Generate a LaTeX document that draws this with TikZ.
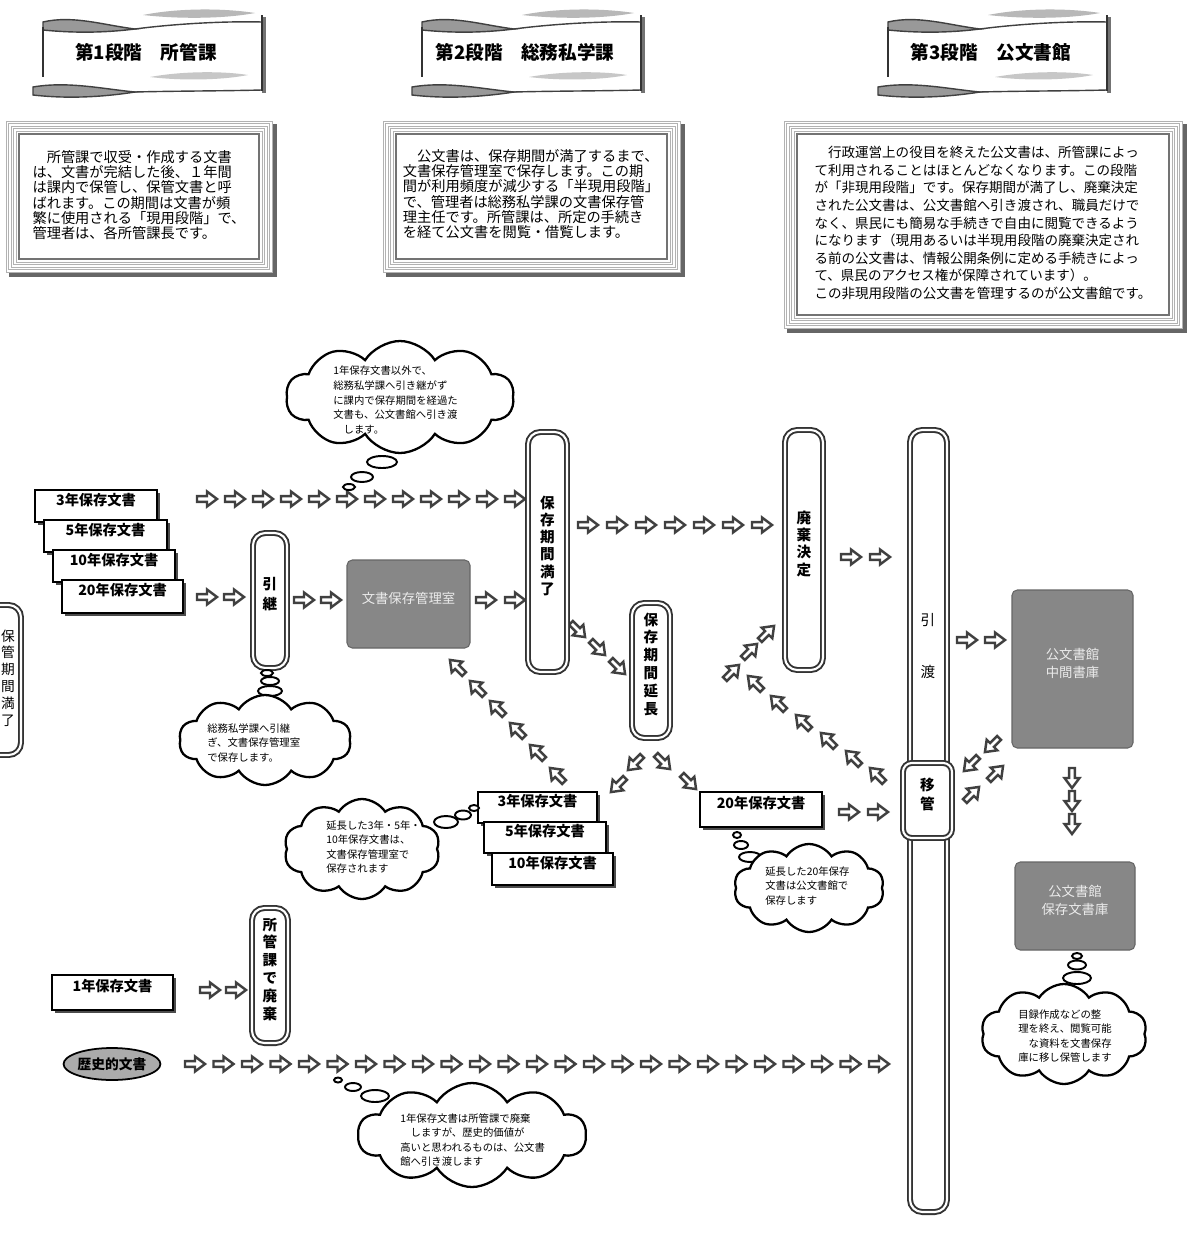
\documentclass[tikz,border=0pt]{standalone}
\usepackage{fontspec}
\setmainfont{Noto Sans CJK JP}
\usetikzlibrary{shapes.symbols, shapes.geometric}
\usetikzlibrary{shadows, fit}

\tikzset{
  arrbody/.style={draw=black!75, fill=white, line width=1.4pt},
  harr/.pic={\draw[arrbody] (-10,-2.8) -- (0,-2.8) -- (0,-7.5) -- (10,0) -- (0,7.5) -- (0,2.8) -- (-10,2.8) -- cycle;},
  pill/.style={draw=black!80, double=white, double distance=1.2pt, line width=1.1pt, fill=white, rounded corners=7pt, inner sep=0pt, align=center, font=\bfseries\fontsize{8.3}{9.8}\selectfont},
  docbox/.style={draw=black, line width=0.9pt, fill=white, inner sep=0pt, drop shadow={shadow xshift=1.7pt, shadow yshift=-1.7pt, fill=black!70, opacity=1}, font=\bfseries\fontsize{8.1}{9}\selectfont},
  store/.style={fill=black!47, draw=black!60, line width=0.6pt, rounded corners=3pt, inner sep=0pt, text=black!8, align=center, font=\fontsize{7.6}{10}\selectfont},
  thought/.style={cloud, cloud puffs=10, cloud puff arc=115, cloud ignores aspect, draw=black, line width=1.3pt, fill=white, inner sep=0pt},
  bubble/.style={draw=black, line width=1.1pt, fill=white},
  cloudtext/.style={align=left, inner sep=0pt, anchor=west, font=\fontsize{5.9}{8.3}\selectfont},
  infotext/.style={align=left, inner sep=0pt, font=\fontsize{8.1}{8.7}\selectfont},
  stagetext/.style={inner sep=0pt, font=\bfseries\fontsize{10.6}{12}\selectfont},
  hist/.style={ellipse, draw=black, line width=1pt, fill=black!33, minimum width=80*0.02cm, minimum height=32*0.02cm, inner sep=0pt, font=\bfseries\fontsize{7.8}{9}\selectfont}
}

% ribbon heading: x, y of upper left corner, name, text
\newcommand{\stagebanner}[4]{%
 \begin{scope}[shift={(#1,#2)}]
  \fill[black!28] (100,-10) .. controls (135,-17) and (180,-17) .. (212,-12) .. controls (180,-6) and (135,-6) .. (100,-10) -- cycle;
  \fill[white] (0,-3) .. controls (30,-10) and (60,0) .. (92,4) .. controls (130,-1) and (180,-4) .. (219,-3) -- (219,65) .. controls (180,66) and (130,66) .. (92,67) .. controls (60,64) and (25,56) .. (-10,62) -- (0,52) -- cycle;
  \fill[black!22] (107,52) .. controls (140,46) and (180,46) .. (205,50) .. controls (180,55) and (140,56) .. (107,52) -- cycle;
  \filldraw[fill=black!40, draw=black!75, line width=0.8pt] (0,-3) .. controls (30,-10) and (60,0) .. (92,4) .. controls (60,8) and (30,8) .. (0,5) -- cycle;
  \draw[black!75, line width=0.8pt] (92,4) .. controls (130,-1) and (180,-4) .. (219,-3);
  \filldraw[fill=black!40, draw=black!75, line width=0.8pt] (-10,62) .. controls (25,56) and (60,64) .. (92,67) .. controls (60,72) and (25,74) .. (-10,70) -- cycle;
  \draw[black!75, line width=0.8pt] (92,67) .. controls (130,66) and (180,66) .. (219,65);
  \draw[black!80, line width=1.2pt] (0,2) -- (0,52);
  \fill[black!55] (219,-8) rectangle (223,68);
  \draw[black!80, line width=1pt] (219,-10) -- (219,66);
  \node[stagetext] (#3) at (103,27) {#4};
 \end{scope}}

% framed note: x1, y1, x2, y2
\newcommand{\descbox}[4]{%
  \fill[black!60] ({#1+4},{#2+4}) rectangle ({#3+4},{#4+4});
  \fill[white] (#1,#2) rectangle (#3,#4);
  \foreach \dd in {1,3.5,6,8.5,11}
    \draw[black!30, line width=0.45pt] ({#1+\dd},{#2+\dd}) rectangle ({#3-\dd},{#4-\dd});
  \draw[black!55, line width=0.6pt] ({#1+14},{#2+14}) rectangle ({#3-14},{#4-14});
}

\begin{document}
\begin{tikzpicture}[x=0.02cm, y=-0.02cm]
\useasboundingbox (0,0) rectangle (1188,1238);
\clip (0,0) rectangle (1188,1238);
\fill[white] (0,0) rectangle (1188,1238);

% headings
\stagebanner{43}{25}{stage1}{第1段階　所管課}
\stagebanner{422}{25}{stage2}{第2段階　総務私学課}
\stagebanner{888}{25}{stage3}{第3段階　公文書館}

% notes
\descbox{5}{120}{273}{273}
\node[infotext] (note1) at (139,195) {　所管課で収受・作成する文書\\は、文書が完結した後、１年間\\は課内で保管し、保管文書と呼\\ばれます。この期間は文書が頻\\繁に使用される「現用段階」で、\\管理者は、各所管課長です。};
\descbox{382}{120}{681}{273}
\node[infotext] (note2) at (531,194) {　公文書は、保存期間が満了するまで、\\文書保存管理室で保存します。この期\\間が利用頻度が減少する「半現用段階」\\で、管理者は総務私学課の文書保存管\\理主任です。所管課は、所定の手続き\\を経て公文書を閲覧・借覧します。};
\descbox{783}{120}{1183}{329}
\node[infotext, font=\fontsize{7.7}{10}\selectfont] (note3) at (983,223) {　行政運営上の役目を終えた公文書は、所管課によっ\\て利用されることはほとんどなくなります。この段階\\が「非現用段階」です。保存期間が満了し、廃棄決定\\された公文書は、公文書館へ引き渡され、職員だけで\\なく、県民にも簡易な手続きで自由に閲覧できるよう\\になります（現用あるいは半現用段階の廃棄決定され\\る前の公文書は、情報公開条例に定める手続きによっ\\て、県民のアクセス権が保障されています）。\\この非現用段階の公文書を管理するのが公文書館です。};

% documents kept in the section
\node[docbox, fit={(35,490) (157,522)}] (keep3) {3年保存文書};
\node[docbox, fit={(44,520) (167,552)}] (keep5) {5年保存文書};
\node[docbox, fit={(53,550) (175,582)}] (keep10) {10年保存文書};
\node[docbox, fit={(62,580) (183,613)}] (keep20) {20年保存文書};
\node[pill, fit={(-30,605) (21,755)}] (expired) {};
\node[align=center, font=\fontsize{7.8}{9.6}\selectfont] (expiredt) at (8,678) {保\\管\\期\\間\\満\\了};

% arrows
\foreach \i in {0,...,11} \pic at ({207+28*\i},499) {harr};
\foreach \x in {207,234} \pic at (\x,597) {harr};
\foreach \x in {304,331} \pic at (\x,600) {harr};
\foreach \x in {486,515} \pic at (\x,600) {harr};
\foreach \i in {0,...,6} \pic at ({588+29*\i},525) {harr};
\foreach \x in {851,880} \pic at (\x,557) {harr};
\foreach \x in {849,878} \pic at (\x,812) {harr};
\foreach \x in {967,995} \pic at (\x,640) {harr};
\foreach \y in {778,801,824} \pic[rotate=-90] at (1072,\y) {harr};
\foreach \x in {210,236} \pic at (\x,990) {harr};
\foreach \i in {0,...,24} \pic at ({195+28.5*\i},1064) {harr};
\foreach \x/\y in {578/630,598/648,618/667} \pic[rotate=-45] at (\x,\y) {harr};
\foreach \x/\y in {635/763,618/785} \pic[rotate=-135] at (\x,\y) {harr};
\foreach \x/\y in {663/762,689/782} \pic[rotate=-45] at (\x,\y) {harr};
\foreach \x/\y in {457/667,477/688,497/708,517/730,537/752,557/775} \pic[rotate=135] at (\x,\y) {harr};
\foreach \x/\y in {732/672,750/651,767/633} \pic[rotate=45] at (\x,\y) {harr};
\foreach \x/\y in {755/683,778/703,803/722,828/740,853/758,877/775} \pic[rotate=135] at (\x,\y) {harr};
\foreach \x/\y in {992/745,971/764} \pic[rotate=-135] at (\x,\y) {harr};
\foreach \x/\y in {996/773,972/794} \pic[rotate=45] at (\x,\y) {harr};

% steps
\node[pill, fit={(253,533) (287,668)}, font=\bfseries\fontsize{8.3}{11.3}\selectfont] (handover) {引\\継};
\node[store, fit={(347,560) (470,648)}] (room) {文書保存管理室};
\node[pill, fit={(528,432) (567,672)}] (expiry) {保\\存\\期\\間\\満\\了};
\node[pill, fit={(632,603) (670,738)}, font=\bfseries\fontsize{8.3}{10.2}\selectfont] (extend) {保\\存\\期\\間\\延\\長};
\node[pill, fit={(785,430) (823,670)}] (disposal) {廃\\棄\\決\\定};
\node[pill, fit={(910,430) (947,1212)}] (transfer) {};
\node[align=center, font=\fontsize{8.3}{29.5}\selectfont] (transfert) at (928,646) {引\\渡};
\node[pill, rounded corners=5pt, fit={(903,763) (952,838)}, font=\bfseries\fontsize{8.3}{10.8}\selectfont] (move) {移\\管};
\node[store, fit={(1012,590) (1133,748)}] (midstore) {公文書館\\中間書庫};
\node[store, fit={(1015,862) (1135,950)}] (archive) {公文書館\\保存文書庫};

% extended documents
\node[docbox, fit={(478,792) (597,823)}] (ext3) {3年保存文書};
\node[docbox, fit={(484,822) (606,853)}] (ext5) {5年保存文書};
\node[docbox, fit={(492,853) (613,885)}] (ext10) {10年保存文書};
\node[docbox, fit={(700,792) (822,827)}] (ext20) {20年保存文書};

% one year documents
\node[docbox, fit={(52,975) (173,1010)}] (keep1) {1年保存文書};
\node[pill, fit={(252,908) (288,1043)}, font=\bfseries\fontsize{8.3}{10.2}\selectfont] (discard) {所\\管\\課\\で\\廃\\棄};
\node[hist] (history) at (112,1064) {歴史的文書};

% thought clouds
\node[thought, minimum width=228*0.02cm, minimum height=112*0.02cm] (cloud1) at (400,397) {};
\node[cloudtext] (cloud1t) at (333,400) {1年保存文書以外で、\\総務私学課へ引き継がず\\に課内で保存期間を経過た\\文書も、公文書館へ引き渡\\　します。};
\draw[bubble] (382,462) ellipse [x radius=15, y radius=6];
\draw[bubble] (362,477) ellipse [x radius=11, y radius=5];
\draw[bubble] (349,487) ellipse [x radius=6, y radius=3];

\draw[bubble] (267,673) ellipse [x radius=6, y radius=3];
\draw[bubble] (270,681) ellipse [x radius=9, y radius=4];
\draw[bubble] (270,691) ellipse [x radius=12, y radius=5];
\node[thought, minimum width=172*0.02cm, minimum height=90*0.02cm] (cloud2) at (265,740) {};
\node[cloudtext] (cloud2t) at (207,743) {総務私学課へ引継\\ぎ、文書保存管理室\\で保存します。};

\node[thought, minimum width=156*0.02cm, minimum height=100*0.02cm] (cloud3) at (362,849) {};
\node[cloudtext] (cloud3t) at (326,847) {延長した3年・5年・\\10年保存文書は、\\文書保存管理室で\\保存されます};
\draw[bubble] (446,822) ellipse [x radius=12, y radius=6];
\draw[bubble] (463,815) ellipse [x radius=8, y radius=4.5];
\draw[bubble] (474,808) ellipse [x radius=5, y radius=3];

\draw[bubble] (737,835) ellipse [x radius=4, y radius=3];
\draw[bubble] (741,845) ellipse [x radius=7, y radius=4];
\draw[bubble] (750,857) ellipse [x radius=11, y radius=5];
\node[thought, minimum width=150*0.02cm, minimum height=88*0.02cm] (cloud4) at (809,888) {};
\node[cloudtext] (cloud4t) at (765,886) {延長した20年保存\\文書は公文書館で\\保存します};

\draw[bubble] (338,1080) ellipse [x radius=4, y radius=2.5];
\draw[bubble] (353,1087) ellipse [x radius=8, y radius=4];
\draw[bubble] (375,1096) ellipse [x radius=14, y radius=6];
\node[thought, minimum width=228*0.02cm, minimum height=104*0.02cm] (cloud5) at (472,1135) {};
\node[cloudtext] (cloud5t) at (400,1140) {1年保存文書は所管課で廃棄\\　しますが、歴史的価値が\\高いと思われるものは、公文書\\館へ引き渡します};

\draw[bubble] (1077,956) ellipse [x radius=5, y radius=3];
\draw[bubble] (1077,965) ellipse [x radius=9, y radius=4.5];
\draw[bubble] (1077,978) ellipse [x radius=14, y radius=6];
\node[thought, minimum width=166*0.02cm, minimum height=100*0.02cm] (cloud6) at (1064,1034) {};
\node[cloudtext] (cloud6t) at (1018,1036) {目録作成などの整\\理を終え、閲覧可能\\　な資料を文書保存\\庫に移し保管します};
\end{tikzpicture}
\end{document}
